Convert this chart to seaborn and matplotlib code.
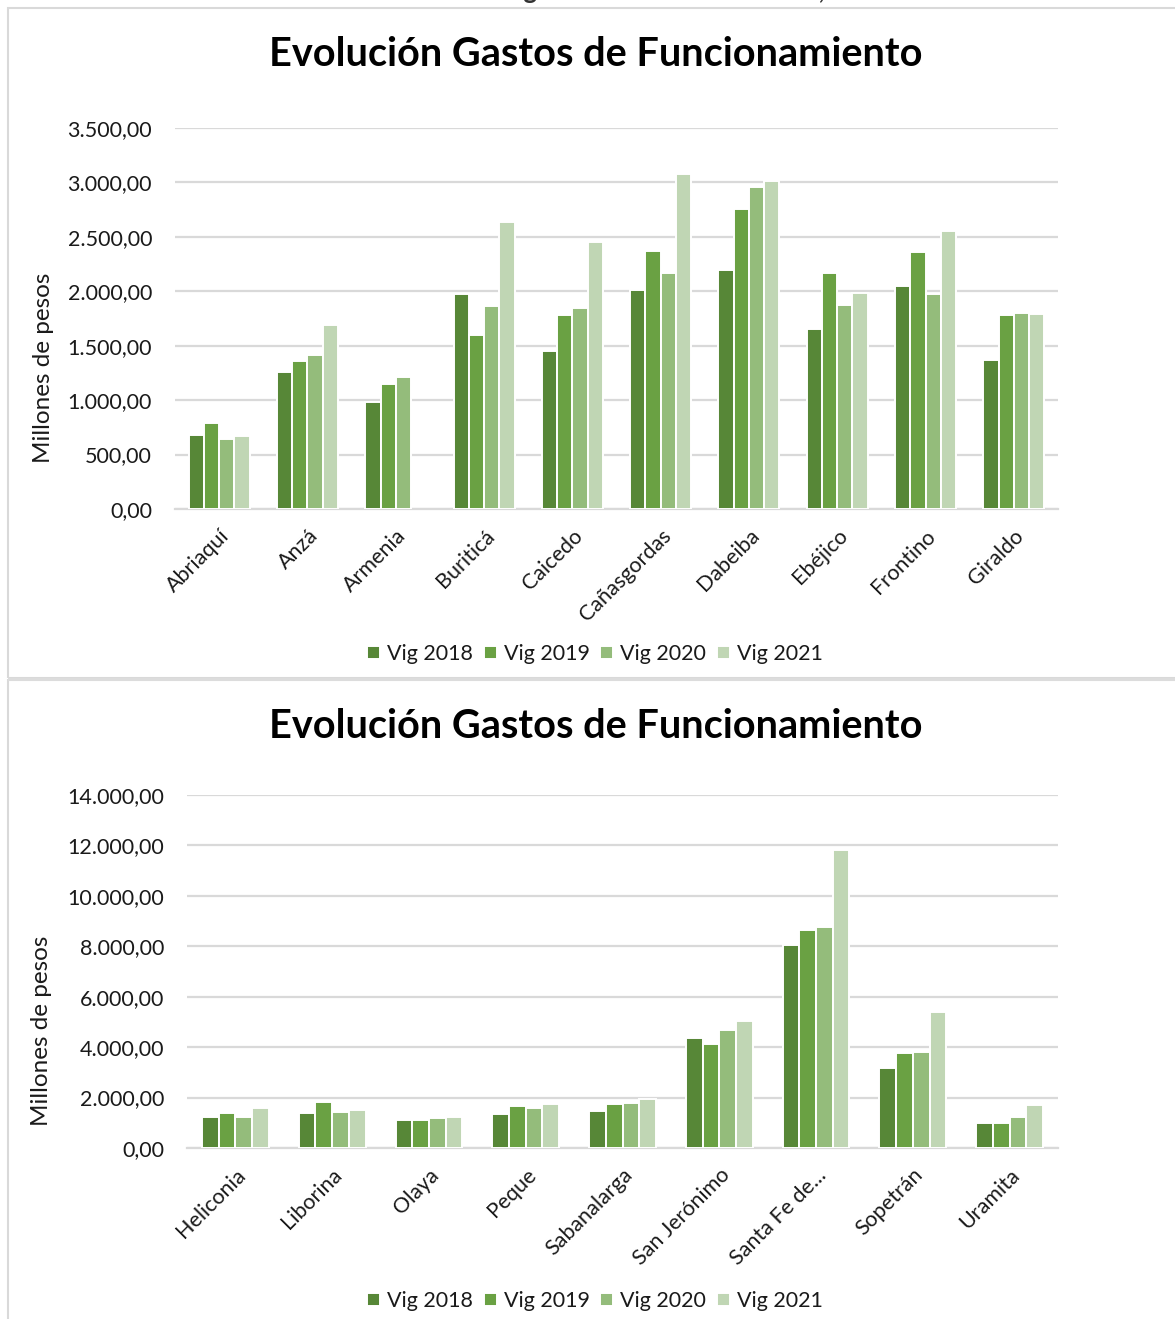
import matplotlib
matplotlib.use("Agg")
import matplotlib.pyplot as plt
from matplotlib.patches import Rectangle
from matplotlib.ticker import FuncFormatter, MultipleLocator
import numpy as np
import pandas as pd
import seaborn as sns

# ---- data (millones de pesos) ----
years = ["Vig 2018", "Vig 2019", "Vig 2020", "Vig 2021"]

munis_a = ["Abriaquí", "Anzá", "Armenia", "Buriticá", "Caicedo",
           "Cañasgordas", "Dabeiba", "Ebéjico", "Frontino", "Giraldo"]
vig2018_a = [677, 1258, 986, 1975, 1451, 2015, 2195, 1653, 2048, 1369]
vig2019_a = [790, 1356, 1151, 1598, 1782, 2370, 2756, 2168, 2358, 1779]
vig2020_a = [640, 1415, 1213, 1868, 1846, 2168, 2958, 1874, 1975, 1798]
vig2021_a = [667, 1687, np.nan, 2640, 2456, 3074, 3010, 1984, 2557, 1791]

munis_b = ["Heliconia", "Liborina", "Olaya", "Peque", "Sabanalarga",
           "San Jerónimo", "Santa Fe de...", "Sopetrán", "Uramita"]
vig2018_b = [1241, 1388, 1097, 1362, 1454, 4350, 8051, 3160, 1004]
vig2019_b = [1388, 1812, 1097, 1666, 1758, 4110, 8660, 3768, 1004]
vig2020_b = [1241, 1428, 1190, 1586, 1785, 4680, 8765, 3794, 1241]
vig2021_b = [1573, 1507, 1241, 1745, 1957, 5037, 11832, 5394, 1705]

colors = ["#578737", "#6AA143", "#94BC7B", "#C0D6B4"]

title_text = "Evolución Gastos de Funcionamiento"
ylabel_text = "Millones de pesos"
header_text = "Gráfico 11. Evolución de gastos de funcionamiento, Occidente"


def long_frame(munis, series):
    df = pd.DataFrame({"Municipio": munis})
    for name, vals in zip(years, series):
        df[name] = vals
    return df.melt(id_vars="Municipio", var_name="Vigencia", value_name="Valor")


def es_fmt(v, _pos):
    s = f"{v:,.2f}"
    return s.replace(",", "X").replace(".", ",").replace("X", ".")


sns.set_theme(style="white")
plt.rcParams["font.family"] = ["Lato", "DejaVu Sans"]

W, H = 1175, 1319
fig = plt.figure(figsize=(W / 100, H / 100), dpi=100)
fig.patch.set_facecolor("white")

# panel frames
for (y0, y1) in [(8, 678), (680, 1330)]:
    fig.add_artist(Rectangle((8 / W, 1 - y1 / H), (W + 20 - 8) / W, (y1 - y0) / H,
                             transform=fig.transFigure, fill=False,
                             edgecolor="#D9D9D9", linewidth=1.5))
fig.add_artist(Rectangle((8 / W, 1 - 681 / H), 1.0, 3 / H, transform=fig.transFigure,
                         facecolor="#DCDCDC", edgecolor="none"))

# header text running off the top edge
fig.text(0.505, 1 + 1.5 / H, header_text, ha="center", va="baseline",
         fontsize=18.5, fontweight="bold", color="#333333")


def draw(rect, munis, series, ymax, step, title_y, legend_y):
    ax = fig.add_axes(rect)
    df = long_frame(munis, series)
    sns.barplot(data=df, x="Municipio", y="Valor", hue="Vigencia",
                hue_order=years, palette=colors, saturation=1, width=0.69,
                edgecolor="white", linewidth=1.4, errorbar=None, ax=ax, zorder=3)
    ax.set_ylim(0, ymax)
    ax.yaxis.set_major_locator(MultipleLocator(step))
    ax.yaxis.set_major_formatter(FuncFormatter(es_fmt))
    ax.grid(axis="y", color="#D9D9D9", linewidth=1.6, zorder=0)
    ax.set_axisbelow(True)
    for side in ["top", "right", "left"]:
        ax.spines[side].set_visible(False)
    ax.spines["bottom"].set_color("#D9D9D9")
    ax.spines["bottom"].set_linewidth(1.6)
    ax.tick_params(axis="both", length=0, labelsize=15.5, colors="#1a1a1a")
    ax.tick_params(axis="y", pad=16.5)
    ax.set_xlabel("")
    ax.set_ylabel(ylabel_text, fontsize=17.5, color="#1a1a1a")
    for lab in ax.get_xticklabels():
        lab.set_rotation(45)
        lab.set_ha("right")
        lab.set_rotation_mode("anchor")
    ax.tick_params(axis="x", pad=12)
    handles, labels = ax.get_legend_handles_labels()
    ax.legend_.remove()
    fig.legend(handles, labels, loc="center", bbox_to_anchor=(595 / W, 1 - legend_y / H),
               ncol=4, frameon=False, fontsize=15.5, handlelength=0.6,
               handleheight=0.6, handletextpad=0.33, columnspacing=0.5,
               labelcolor="#1a1a1a")
    fig.text(596 / W, 1 - title_y / H, title_text, ha="center", va="center",
             fontsize=28.5, fontweight="bold", color="black")
    return ax


ax1 = draw([175 / W, 1 - 509 / H, 883 / W, 381 / H], munis_a,
           [vig2018_a, vig2019_a, vig2020_a, vig2021_a], 3500, 500, 55, 654)
ax1.yaxis.set_label_coords(-0.137, 0.37)

ax2 = draw([187 / W, 1 - 1148 / H, 871 / W, 353 / H], munis_b,
           [vig2018_b, vig2019_b, vig2020_b, vig2021_b], 14000, 2000, 727, 1301)
ax2.yaxis.set_label_coords(-0.155, 0.331)

fig.savefig("out.png", dpi=100, facecolor="white")
